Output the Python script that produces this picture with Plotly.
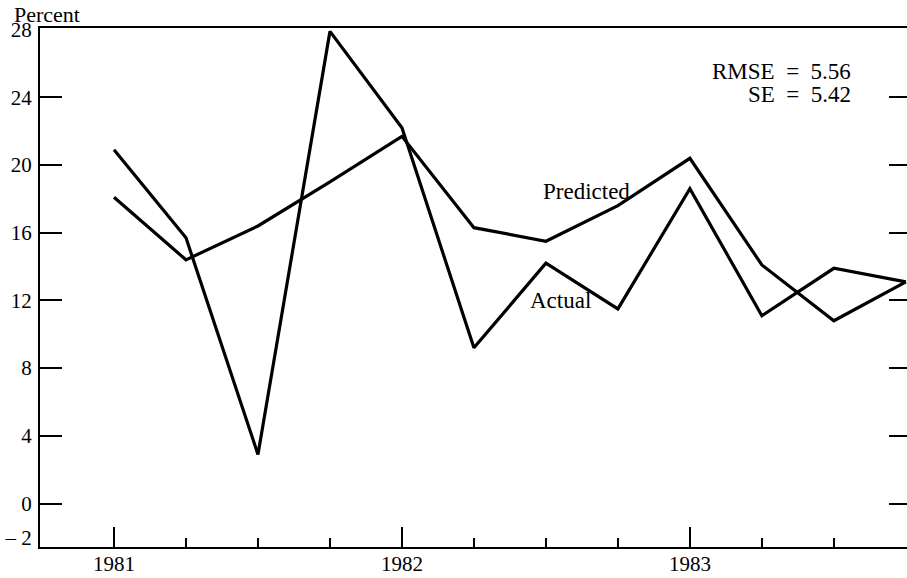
import plotly.graph_objects as go

# Quarterly observations, 1981 Q1 through 1983 Q4 (year + fraction of year)
quarters = [1981.0, 1981.25, 1981.5, 1981.75,
            1982.0, 1982.25, 1982.5, 1982.75,
            1983.0, 1983.25, 1983.5, 1983.75]
actual = [20.9, 15.7, 2.9, 27.9, 22.2, 9.2, 14.2, 11.5, 18.6, 11.1, 13.9, 13.1]
predicted = [18.1, 14.4, 16.4, 19.0, 21.7, 16.3, 15.5, 17.6, 20.4, 14.1, 10.8, 13.1]

year_ticks = [1981, 1982, 1983]
year_labels = ["1981", "1982", "1983"]
quarter_ticks = [1981.25, 1981.5, 1981.75, 1982.25, 1982.5, 1982.75,
                 1983.25, 1983.5]
y_label_vals = [-2, 0, 4, 8, 12, 16, 20, 24, 28]
y_label_text = ["\u2013 2", "0", "4", "8", "12", "16", "20", "24", "28"]
y_mark_vals = [0, 4, 8, 12, 16, 20, 24]

rmse_text = "RMSE\u00a0\u00a0=\u00a0\u00a05.56"
se_text = "SE\u00a0\u00a0=\u00a0\u00a05.42"

FONT = "Liberation Serif"
X_RANGE = [1980.743, 1983.754]
Y_RANGE = [-2.57, 28.1]

fig = go.Figure()
line_style = dict(color="black", width=3.2)
fig.add_trace(go.Scatter(x=quarters, y=actual, mode="lines", line=line_style,
                         name="Actual", showlegend=False, hoverinfo="skip"))
fig.add_trace(go.Scatter(x=quarters, y=predicted, mode="lines", line=line_style,
                         name="Predicted", showlegend=False, hoverinfo="skip"))
# carriers for the inward tick marks on the left and right edges
fig.add_trace(go.Scatter(x=quarters, y=actual, mode="none", yaxis="y2",
                         showlegend=False, hoverinfo="skip"))
fig.add_trace(go.Scatter(x=quarters, y=actual, mode="none", yaxis="y3",
                         showlegend=False, hoverinfo="skip"))

fig.update_layout(
    width=907, height=578,
    margin=dict(l=40, r=0, t=28, b=31),
    paper_bgcolor="white", plot_bgcolor="white",
    font=dict(family=FONT, size=21, color="black"),
    xaxis=dict(
        range=X_RANGE, tickvals=year_ticks, ticktext=year_labels,
        ticks="inside", ticklen=20, tickwidth=2, tickcolor="black",
        showline=True, linewidth=2, linecolor="black", mirror=True,
        showgrid=False, zeroline=False, tickfont=dict(size=21),
        ticklabelstandoff=-3,
        minor=dict(ticks="inside", ticklen=9, tickwidth=1.5, tickcolor="black",
                   tickvals=quarter_ticks, showgrid=False),
    ),
    yaxis=dict(
        range=Y_RANGE, tickvals=y_label_vals, ticktext=y_label_text,
        ticks="", showline=True, linewidth=2, linecolor="black",
        showgrid=False, zeroline=False, tickfont=dict(size=21),
        ticklabelstandoff=2,
    ),
    yaxis2=dict(
        range=Y_RANGE, overlaying="y", side="left", anchor="x",
        tickvals=y_mark_vals, ticks="inside", ticklen=22, tickwidth=2,
        tickcolor="black", showticklabels=False, showline=False,
        showgrid=False, zeroline=False,
    ),
    yaxis3=dict(
        range=Y_RANGE, overlaying="y", side="right", anchor="x",
        tickvals=y_mark_vals, ticks="inside", ticklen=18, tickwidth=2,
        tickcolor="black", showticklabels=False, showline=False,
        showgrid=False, zeroline=False,
    ),
    annotations=[
        dict(text="Percent", xref="paper", yref="paper", x=0, y=1,
             xanchor="left", yanchor="middle", xshift=-28, yshift=14,
             showarrow=False, font=dict(size=22)),
        dict(text="Predicted", x=1982.64, y=18.44, xref="x", yref="y",
             showarrow=False, font=dict(size=23)),
        dict(text="Actual", x=1982.55, y=12.0, xref="x", yref="y",
             showarrow=False, font=dict(size=23)),
        dict(text=rmse_text, x=1983.566, y=25.54, xref="x", yref="y",
             xanchor="right", showarrow=False, font=dict(size=23)),
        dict(text=se_text, x=1983.566, y=24.16, xref="x", yref="y",
             xanchor="right", showarrow=False, font=dict(size=23)),
    ],
)

fig.write_html("out.html")
